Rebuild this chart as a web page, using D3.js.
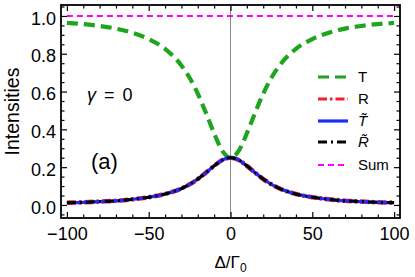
<!DOCTYPE html>
<html><head><meta charset="utf-8">
<script src="https://cdn.jsdelivr.net/npm/d3@7/dist/d3.min.js"></script>
<style>body{margin:0;background:#fff} svg{display:block}</style>
</head><body><svg id="c" width="415" height="277"></svg>
<script>
// ---- data ----
const detuning = [-100,-90,-80,-70,-60,-50,-40,-30,-25,-20,-15,-10,-5,0,5,10,15,20,25,30,40,50,60,70,80,90,100];
const T      = [0.963,0.957,0.947,0.933,0.911,0.878,0.826,0.738,0.673,0.589,0.487,0.379,0.286,0.250,0.286,0.379,0.487,0.589,0.673,0.738,0.826,0.878,0.911,0.933,0.947,0.957,0.963];
const R      = [0.012,0.014,0.018,0.022,0.030,0.041,0.058,0.087,0.109,0.137,0.171,0.207,0.238,0.250,0.238,0.207,0.171,0.137,0.109,0.087,0.058,0.041,0.030,0.022,0.018,0.014,0.012];
const Ttilde = [0.012,0.014,0.018,0.022,0.030,0.041,0.058,0.087,0.109,0.137,0.171,0.207,0.238,0.250,0.238,0.207,0.171,0.137,0.109,0.087,0.058,0.041,0.030,0.022,0.018,0.014,0.012];
const Rtilde = [0.012,0.014,0.018,0.022,0.030,0.041,0.058,0.087,0.109,0.137,0.171,0.207,0.238,0.250,0.238,0.207,0.171,0.137,0.109,0.087,0.058,0.041,0.030,0.022,0.018,0.014,0.012];
const Sum    = [1,1,1,1,1,1,1,1,1,1,1,1,1,1,1,1,1,1,1,1,1,1,1,1,1,1,1];
const xTicks = [-100,-50,0,50,100];
const yTicks = [0,0.2,0.4,0.6,0.8,1.0];
const seriesNames = ["T","R","T\u0303","R\u0303","Sum"];

// ---- layout ----
const svg = d3.select("#c");
const L = 61, Rt = 400, Tp = 5, B = 218;
const FONT = "'Liberation Sans', Arial, sans-serif";
const x = d3.scaleLinear().domain([-103.6,103.6]).range([L,Rt]);
const y = d3.scaleLinear().domain([-0.069,1.058]).range([B,Tp]);

const styles = [
  {color:"#1ea51e", width:4.2, dash:"11,6"},
  {color:"#f0202a", width:4.6, dash:"9,3,2.5,3"},
  {color:"#1a2cff", width:3.2, dash:null},
  {color:"#000000", width:3.0, dash:"9,4,2,4"},
  {color:"#ff00ff", width:2.0, dash:"6,4"}
];
const data = [T,R,Ttilde,Rtilde,Sum];

// vertical line at 0 (behind)
svg.append("line").attr("x1",x(0)).attr("x2",x(0)).attr("y1",Tp).attr("y2",B)
  .attr("stroke","#8a8a8a").attr("stroke-width",1);

const line = d3.line().curve(d3.curveMonotoneX);
svg.append("clipPath").attr("id","pc").append("rect")
  .attr("x",L).attr("y",Tp).attr("width",Rt-L).attr("height",B-Tp);
data.forEach((vals,i)=>{
  const s = styles[i];
  svg.append("path").attr("clip-path","url(#pc)")
    .attr("d", line(detuning.map((d,j)=>[x(d), y(vals[j])])))
    .attr("fill","none").attr("stroke",s.color).attr("stroke-width",s.width)
    .attr("stroke-dasharray",s.dash).attr("stroke-linecap","butt");
});

// axes (ticks inside)
function minorRange(a,b,st){const r=[];for(let v=a;v<=b+1e-9;v+=st)r.push(+v.toFixed(4));return r;}
const xMinor = minorRange(-100,100,10).filter(v=>!xTicks.includes(v));
const yMinor = minorRange(-0.05,1.05,0.05).filter(v=>!yTicks.some(t=>Math.abs(t-v)<1e-6));

function styleAxis(g){ g.select(".domain").remove(); g.selectAll("line").attr("stroke","#000").attr("stroke-width",1.2); g.selectAll("text").attr("font-family",FONT).attr("font-size",18).attr("fill","#000"); }

svg.append("g").attr("transform",`translate(0,${B})`)
  .call(d3.axisBottom(x).tickValues(xTicks).tickSize(-6).tickPadding(9).tickFormat(d3.format("d"))).call(styleAxis);
svg.append("g").attr("transform",`translate(0,${B})`)
  .call(d3.axisBottom(x).tickValues(xMinor).tickSize(-3.5).tickFormat("")).call(styleAxis);
svg.append("g").attr("transform",`translate(0,${Tp})`)
  .call(d3.axisTop(x).tickValues(xTicks).tickSize(-6).tickFormat("")).call(styleAxis);
svg.append("g").attr("transform",`translate(0,${Tp})`)
  .call(d3.axisTop(x).tickValues(xMinor).tickSize(-3.5).tickFormat("")).call(styleAxis);
svg.append("g").attr("transform",`translate(${L},0)`)
  .call(d3.axisLeft(y).tickValues(yTicks).tickSize(-6).tickPadding(5).tickFormat(d3.format(".1f"))).call(styleAxis)
  .selectAll("text").attr("dy","0.45em");
svg.append("g").attr("transform",`translate(${L},0)`)
  .call(d3.axisLeft(y).tickValues(yMinor).tickSize(-3.5).tickFormat("")).call(styleAxis);
svg.append("g").attr("transform",`translate(${Rt},0)`)
  .call(d3.axisRight(y).tickValues(yTicks).tickSize(-6).tickFormat("")).call(styleAxis);
svg.append("g").attr("transform",`translate(${Rt},0)`)
  .call(d3.axisRight(y).tickValues(yMinor).tickSize(-3.5).tickFormat("")).call(styleAxis);

// frame
svg.append("rect").attr("x",L).attr("y",Tp).attr("width",Rt-L).attr("height",B-Tp)
  .attr("fill","none").attr("stroke","#000").attr("stroke-width",1.8);

// axis titles
svg.append("text").attr("transform",`translate(19,${(Tp+B)/2}) rotate(-90)`)
  .attr("text-anchor","middle").attr("font-family",FONT).attr("font-size",19.5).text("Intensities");
const xl = svg.append("text").attr("x",x(0)).attr("y",268).attr("text-anchor","middle")
  .attr("font-family",FONT).attr("font-size",17);
xl.append("tspan").text("\u0394/\u0393");
xl.append("tspan").attr("font-size",12).attr("dy",4).text("0");

// annotations
const g0 = svg.append("text").attr("x",87).attr("y",101).attr("font-family",FONT).attr("font-size",18);
g0.append("tspan").attr("font-style","italic").text("\u03b3");
g0.append("tspan").attr("dx",8).text("=");
g0.append("tspan").attr("dx",8).text("0");
svg.append("text").attr("x",91).attr("y",169).attr("font-family",FONT).attr("font-size",22).text("(a)");

// legend
const lg = svg.append("g");
const rowsY = [77,99,121,142,165];
seriesNames.forEach((nm,i)=>{
  const s = styles[i];
  lg.append("line").attr("x1",318).attr("x2",348).attr("y1",rowsY[i]).attr("y2",rowsY[i])
    .attr("stroke",s.color).attr("stroke-width",Math.min(s.width,3.2)).attr("stroke-dasharray",s.dash);
  const t = lg.append("text").attr("x",358).attr("y",rowsY[i]+5).attr("font-family",FONT).attr("font-size",15).text(nm);
  if(i===2||i===3) t.attr("font-style","italic");
});
</script></body></html>
